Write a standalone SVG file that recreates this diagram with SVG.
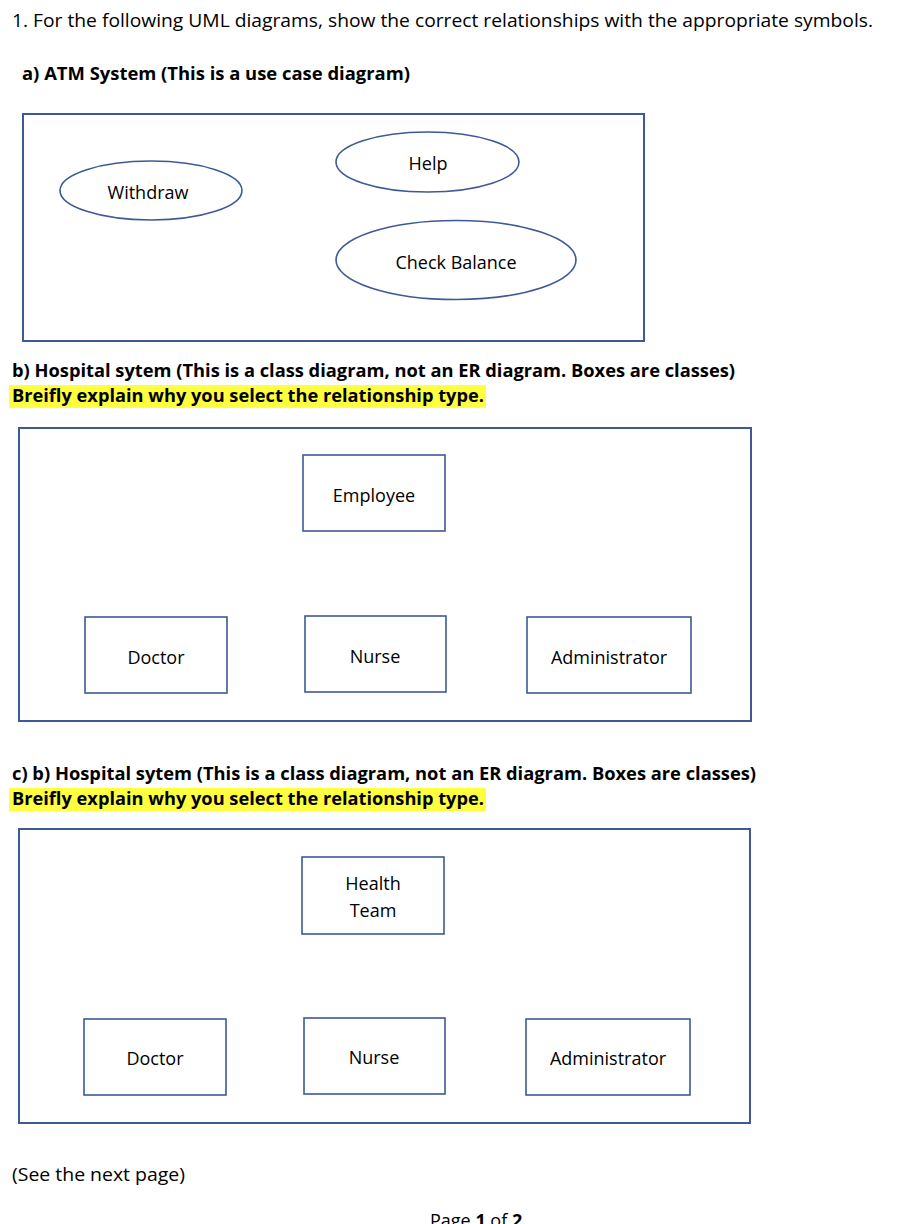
<svg xmlns="http://www.w3.org/2000/svg" width="916" height="1224" viewBox="0 0 916 1224">
<style>
.t{font-family:"Open Sans","Liberation Sans",sans-serif;font-size:18px;fill:#000}
.b{font-weight:bold}
.c{text-anchor:middle}
.frame{fill:none;stroke:#3D5A98;stroke-width:2}
.node{fill:#fff;stroke:#3D5A98;stroke-width:1.6}
.hl{fill:#FFFF3F}
</style>
<rect width="916" height="1224" fill="#fff"/>
<text class="t" x="12" y="27" textLength="861" lengthAdjust="spacingAndGlyphs">1. For the following UML diagrams, show the correct relationships with the appropriate symbols.</text>
<text class="t b" x="22" y="80" textLength="388" lengthAdjust="spacingAndGlyphs">a) ATM System (This is a use case diagram)</text>
<rect class="frame" x="23" y="114" width="621" height="227"/>
<g id="withdraw"><ellipse class="node" cx="151" cy="190.5" rx="91" ry="29.5"/><text class="t c" x="148" y="199">Withdraw</text></g>
<g id="help"><ellipse class="node" cx="427.5" cy="162" rx="91.5" ry="30"/><text class="t c" x="428" y="170">Help</text></g>
<g id="checkbalance"><ellipse class="node" cx="456" cy="260" rx="120" ry="39.5"/><text class="t c" x="456" y="269">Check Balance</text></g>
<text class="t b" x="12" y="377" textLength="723" lengthAdjust="spacingAndGlyphs">b) Hospital sytem (This is a class diagram, not an ER diagram. Boxes are classes)</text>
<rect class="hl" x="9" y="385" width="477" height="23"/>
<text class="t b" x="12" y="402" textLength="472" lengthAdjust="spacingAndGlyphs">Breifly explain why you select the relationship type.</text>
<rect class="frame" x="19" y="428" width="732" height="293"/>
<g id="employee"><rect class="node" x="303" y="455" width="142" height="76"/><text class="t c" x="374" y="502">Employee</text></g>
<g id="doctor1"><rect class="node" x="85" y="617" width="142" height="76"/><text class="t c" x="156" y="664">Doctor</text></g>
<g id="nurse1"><rect class="node" x="305" y="616" width="141" height="76"/><text class="t c" x="375" y="663">Nurse</text></g>
<g id="admin1"><rect class="node" x="527" y="617" width="164" height="76"/><text class="t c" x="609" y="664">Administrator</text></g>
<text class="t b" x="12" y="780" textLength="744" lengthAdjust="spacingAndGlyphs">c) b) Hospital sytem (This is a class diagram, not an ER diagram. Boxes are classes)</text>
<rect class="hl" x="9" y="788" width="477" height="23"/>
<text class="t b" x="12" y="805" textLength="472" lengthAdjust="spacingAndGlyphs">Breifly explain why you select the relationship type.</text>
<rect class="frame" x="19" y="829" width="731" height="294"/>
<g id="healthteam"><rect class="node" x="302" y="857" width="142" height="77"/><text class="t c" x="373" y="890">Health</text><text class="t c" x="373" y="917">Team</text></g>
<g id="doctor2"><rect class="node" x="84" y="1019" width="142" height="76"/><text class="t c" x="155" y="1065">Doctor</text></g>
<g id="nurse2"><rect class="node" x="304" y="1018" width="141" height="76"/><text class="t c" x="374" y="1064">Nurse</text></g>
<g id="admin2"><rect class="node" x="526" y="1019" width="164" height="76"/><text class="t c" x="608" y="1065">Administrator</text></g>
<g id="connectors"></g>
<text class="t" x="12" y="1181" textLength="173" lengthAdjust="spacingAndGlyphs">(See the next page)</text>
<text class="t" x="430" y="1227">Page <tspan class="b">1</tspan> of <tspan class="b">2</tspan></text>
</svg>
